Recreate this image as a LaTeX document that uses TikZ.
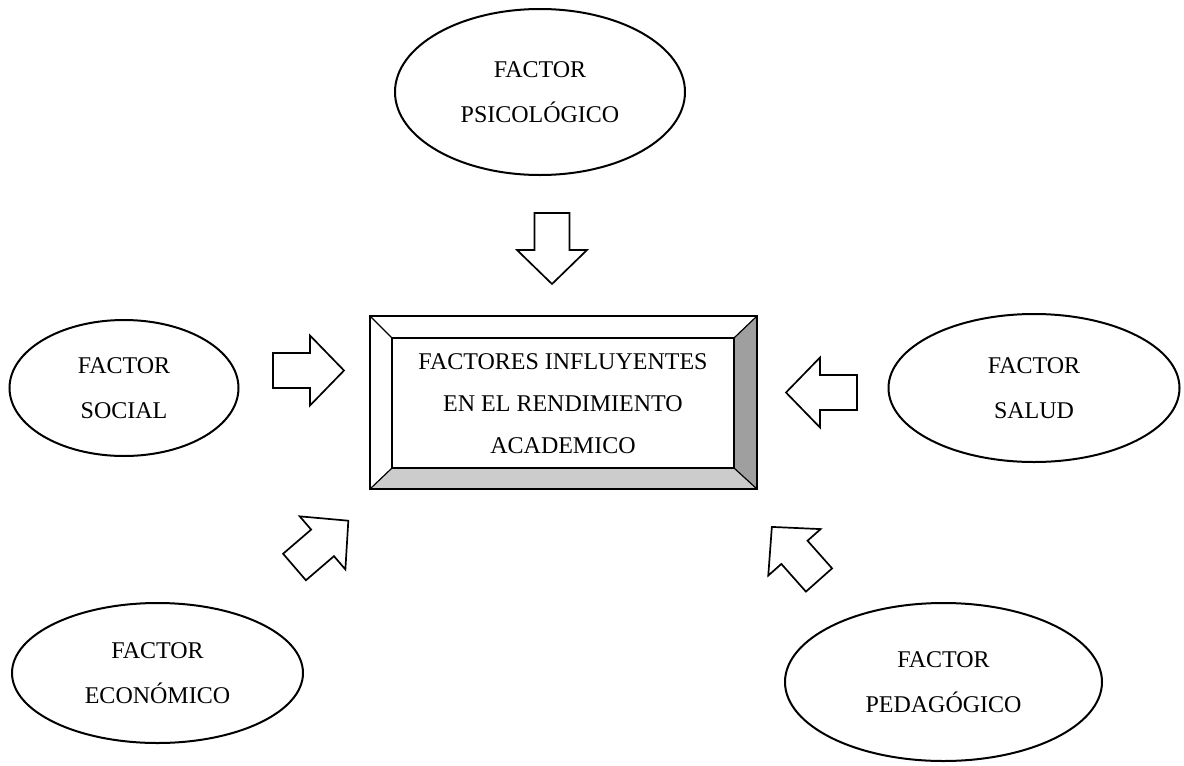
\documentclass[tikz,border=0pt]{standalone}
\usepackage{fontspec}
\setmainfont{Liberation Serif}
\usetikzlibrary{shapes.geometric}

\begin{document}
\begin{tikzpicture}[x=1pt,y=-1pt,
	factor/.style={draw,ellipse,line width=2pt,inner sep=0pt,align=center,font=\fontsize{24}{45}\selectfont},
	bloque/.style={draw,fill=white,line width=1.7pt,line join=miter}]
	\useasboundingbox (0,0) rectangle (1184,766);

	% The frame
	\coordinate (o1) at (370,316);
	\coordinate (o2) at (757,316);
	\coordinate (o3) at (757,489);
	\coordinate (o4) at (370,489);
	\coordinate (i1) at (392,338);
	\coordinate (i2) at (734,338);
	\coordinate (i3) at (734,468);
	\coordinate (i4) at (392,468);

	\fill[color=gray!75] (o2) -- (o3) -- (i3) -- (i2) -- cycle;
	\fill[color=gray!40] (o3) -- (o4) -- (i4) -- (i3) -- cycle;
	\draw[line width=1.7pt] (o1) -- (o2) -- (o3) -- (o4) -- cycle;
	\draw[line width=1.7pt] (i1) -- (i2) -- (i3) -- (i4) -- cycle;
	\draw[line width=1.2pt] (o1) -- (i1);
	\draw[line width=1.2pt] (o2) -- (i2);
	\draw[line width=1.2pt] (o3) -- (i3);
	\draw[line width=1.2pt] (o4) -- (i4);

	\node[align=center,inner sep=0pt,font=\fontsize{24}{42}\selectfont] (centro) at (563,404) {FACTORES INFLUYENTES\\EN EL RENDIMIENTO\\ACADEMICO};

	% The factors
	\node[factor,minimum width=290pt,minimum height=166pt] (psico) at (540,92) {FACTOR\\PSICOLÓGICO};
	\node[factor,minimum width=229pt,minimum height=136pt] (social) at (124,388) {FACTOR\\SOCIAL};
	\node[factor,minimum width=291pt,minimum height=148pt] (salud) at (1034,388) {FACTOR\\SALUD};
	\node[factor,minimum width=291pt,minimum height=140pt] (econo) at (157.5,673) {FACTOR\\ECONÓMICO};
	\node[factor,minimum width=317pt,minimum height=158pt] (pedago) at (943.5,682) {FACTOR\\PEDAGÓGICO};

	% The block arrows
	\foreach \px/\py/\ang in {552/213/-90, 273/370.5/0, 857/392.5/180, 294.5/567/40.7, 819/580/131.6}
	{
		\draw[bloque,shift={(\px,\py)},rotate=\ang] (0,-17.5) -- (37,-17.5) -- (37,-35) -- (71,0) -- (37,35) -- (37,17.5) -- (0,17.5) -- cycle;
	}
\end{tikzpicture}
\end{document}
